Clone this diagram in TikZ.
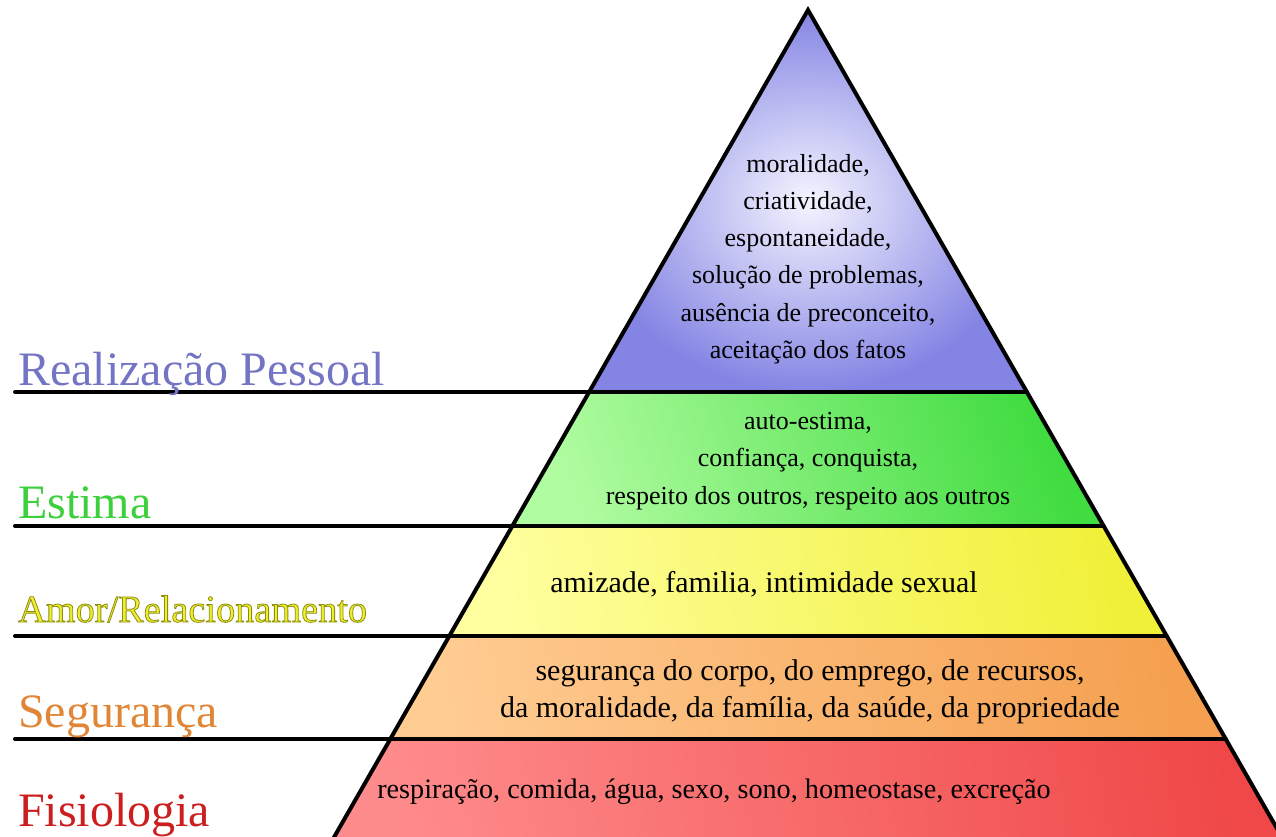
\documentclass[tikz,border=0pt]{standalone}
\usepackage{fontspec}
\setmainfont{Liberation Serif}
\definecolor{topIn}{HTML}{F4F4FF}
\definecolor{topOut}{HTML}{8484E4}
\definecolor{grA}{HTML}{B0FCA0}
\definecolor{grB}{HTML}{40DC40}
\definecolor{yeA}{HTML}{FFFFA0}
\definecolor{yeB}{HTML}{F0F038}
\definecolor{orA}{HTML}{FFCC92}
\definecolor{orB}{HTML}{F5A050}
\definecolor{reA}{HTML}{FF8C8C}
\definecolor{reB}{HTML}{F04848}
\definecolor{lblBlue}{HTML}{7474C4}
\definecolor{lblGreen}{HTML}{3CD03C}
\definecolor{lblYellow}{HTML}{EEEE30}
\definecolor{lblOrange}{HTML}{E08636}
\definecolor{lblRed}{HTML}{CC1E1E}
\begin{document}
\begin{tikzpicture}[x=1pt,y=-1pt,
  inner/.style={font=\fontsize{26}{37.3}\selectfont, align=center, inner sep=0pt, text=black},
  lbl/.style={anchor=base west, inner sep=0pt, font=\fontsize{48}{48}\selectfont},
  edge/.style={line width=4pt, line cap=round, line join=miter}]
\useasboundingbox (0,0) rectangle (1276,836);
\clip (0,0) rectangle (1276,836);
% pyramid geometry
\coordinate (A) at (808,10);
\coordinate (L1) at (589.1,392);  \coordinate (R1) at (1026.9,392);
\coordinate (L2) at (512.3,526);  \coordinate (R2) at (1103.7,526);
\coordinate (L3) at (449.3,636);  \coordinate (R3) at (1166.7,636);
\coordinate (L4) at (390.3,739);  \coordinate (R4) at (1225.7,739);
\coordinate (L5) at (326.7,850);  \coordinate (R5) at (1289.3,850);
\coordinate (S1) at (15,392);
\coordinate (S2) at (15,526);
\coordinate (S3) at (15,636);
\coordinate (S4) at (15,739);
% band fills
\shade[inner color=topIn, outer color=topOut] (A) -- (R1) -- (L1) -- cycle;
\shade[left color=grA, right color=grB, shading angle=110] (L1) -- (R1) -- (R2) -- (L2) -- cycle;
\shade[left color=yeA, right color=yeB, shading angle=100] (L2) -- (R2) -- (R3) -- (L3) -- cycle;
\shade[left color=orA, right color=orB, shading angle=100] (L3) -- (R3) -- (R4) -- (L4) -- cycle;
\shade[left color=reA, right color=reB, shading angle=100] (L4) -- (R4) -- (R5) -- (L5) -- cycle;
% separators and outline
\draw[edge] (S1) -- (R1);
\draw[edge] (S2) -- (R2);
\draw[edge] (S3) -- (R3);
\draw[edge] (S4) -- (R4);
\draw[edge] (L5) -- (A) -- (R5);
% texts inside
\node[inner] (t1) at (808,259) {moralidade,\\criatividade,\\espontaneidade,\\solução de problemas,\\ausência de preconceito,\\aceitação dos fatos};
\node[inner] (t2) at (808,461) {auto-estima,\\confiança, conquista,\\respeito dos outros, respeito aos outros};
\node[inner, font=\fontsize{30}{37.3}\selectfont] (t3) at (764,584) {amizade, familia, intimidade sexual};
\node[inner, font=\fontsize{30}{37.3}\selectfont] (t4) at (810,692) {segurança do corpo, do emprego, de recursos,\\da moralidade, da família, da saúde, da propriedade};
\node[inner, font=\fontsize{28.2}{37.3}\selectfont] (t5) at (714,792) {respiração, comida, água, sexo, sono, homeostase, excreção};
% level labels
\node[lbl, text=lblBlue] (l1) at (18,385) {Realização Pessoal};
\node[lbl, text=lblGreen] (l2) at (18,518) {Estima};
\node[lbl, text=lblYellow, font=\fontsize{38.3}{38.3}\selectfont] (l3) at (18,622)
  {\special{pdf:literal direct 2 Tr 0.8 w 0.56 0.56 0.06 RG}Amor/Relacionamento\special{pdf:literal direct 0 Tr}};
\node[lbl, text=lblOrange] (l4) at (18,727) {Segurança};
\node[lbl, text=lblRed] (l5) at (18,826) {Fisiologia};
\end{tikzpicture}
\end{document}
